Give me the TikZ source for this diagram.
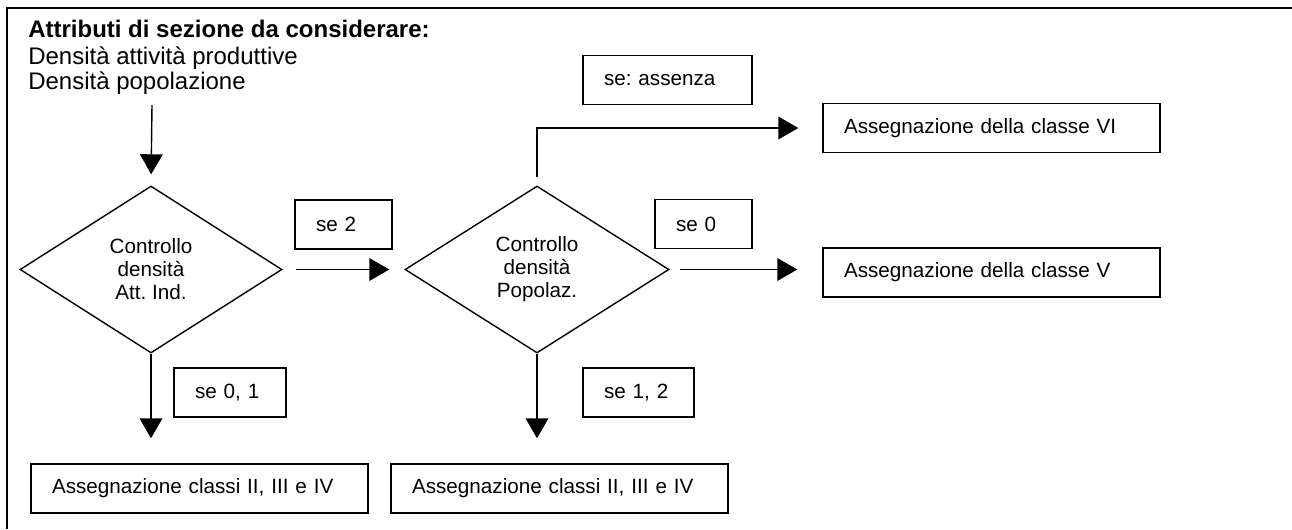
\documentclass[tikz,border=0pt]{standalone}
\usepackage{fontspec}
\setmainfont{Liberation Sans}
\usetikzlibrary{shapes.geometric,arrows.meta}
\frenchspacing
\begin{document}
\begin{tikzpicture}[x=0.75pt,y=-0.75pt,
  conn/.style={line width=1.05pt, -{Triangle[length=15pt,width=17pt]}},
  lbox/.style={draw, line width=1.05pt, inner xsep=15.75pt, inner ysep=0pt,
    minimum height=36.75pt, align=left, font=\fontsize{15.5}{18}\selectfont},
  dec/.style={draw, diamond, line width=1.05pt, minimum width=196.5pt,
    minimum height=125.25pt, inner sep=0pt, align=center,
    font=\fontsize{15.5}{17.2}\selectfont},
  toptxt/.style={anchor=base west, inner sep=0pt, font=\fontsize{18}{21}\selectfont}]
\useasboundingbox (0,0) rectangle (1292,529);
\draw[line width=1.5pt] (1292,8) -- (7,8) -- (7,529);

\node[toptxt, font=\bfseries\fontsize{18}{21}\selectfont] (t1) at (28,37) {Attributi di sezione da considerare:};
\node[toptxt] (t2) at (28,64) {Densità attività produttive};
\node[toptxt] (t3) at (28,89) {Densità popolazione};
\coordinate (src) at (152,105);

\node[dec] (d1) at (151,269.5) {Controllo\\densità\\Att. Ind.};
\node[dec, minimum width=198pt] (d2) at (537,269.5) {Controllo\\densità\\Popolaz.};

\node[lbox, text width=41.25pt] (s2) at (343.5,224.5) {se 2};
\node[lbox, text width=41.25pt] (s0) at (703.5,224) {se 0};
\node[lbox, text width=95.25pt] (sa) at (667.5,80) {se: assenza};
\node[lbox, text width=52.5pt] (s01) at (230,392.5) {se 0, 1};
\node[lbox, text width=51.75pt] (s12) at (638.5,392.5) {se 1, 2};
\node[lbox, text width=221.25pt] (bVI) at (991.5,128) {Assegnazione della classe VI};
\node[lbox, text width=221.25pt] (bV) at (991.5,272.5) {Assegnazione della classe V};
\node[lbox, text width=221.25pt] (b1) at (199.5,488.5) {Assegnazione classi II, III e IV};
\node[lbox, text width=221.25pt] (b2) at (559.5,488.5) {Assegnazione classi II, III e IV};

\draw[conn, shorten >=8.25pt] (src) -- (d1.north);
\draw[conn, shorten <=9.75pt, shorten >=11.25pt] (d1.east) -- (d2.west);
\draw[conn, shorten <=7.5pt, shorten >=18.75pt] (d2.east) -- (d2.east -| bV.west);
\draw[conn, shorten <=6pt, shorten >=18pt] (d2.north) |- (bVI.west);
\draw[conn, shorten >=18.75pt] (d1.south) -- (d1.south |- b1.north);
\draw[conn, shorten >=18.75pt] (d2.south) -- (d2.south |- b2.north);
\end{tikzpicture}
\end{document}
